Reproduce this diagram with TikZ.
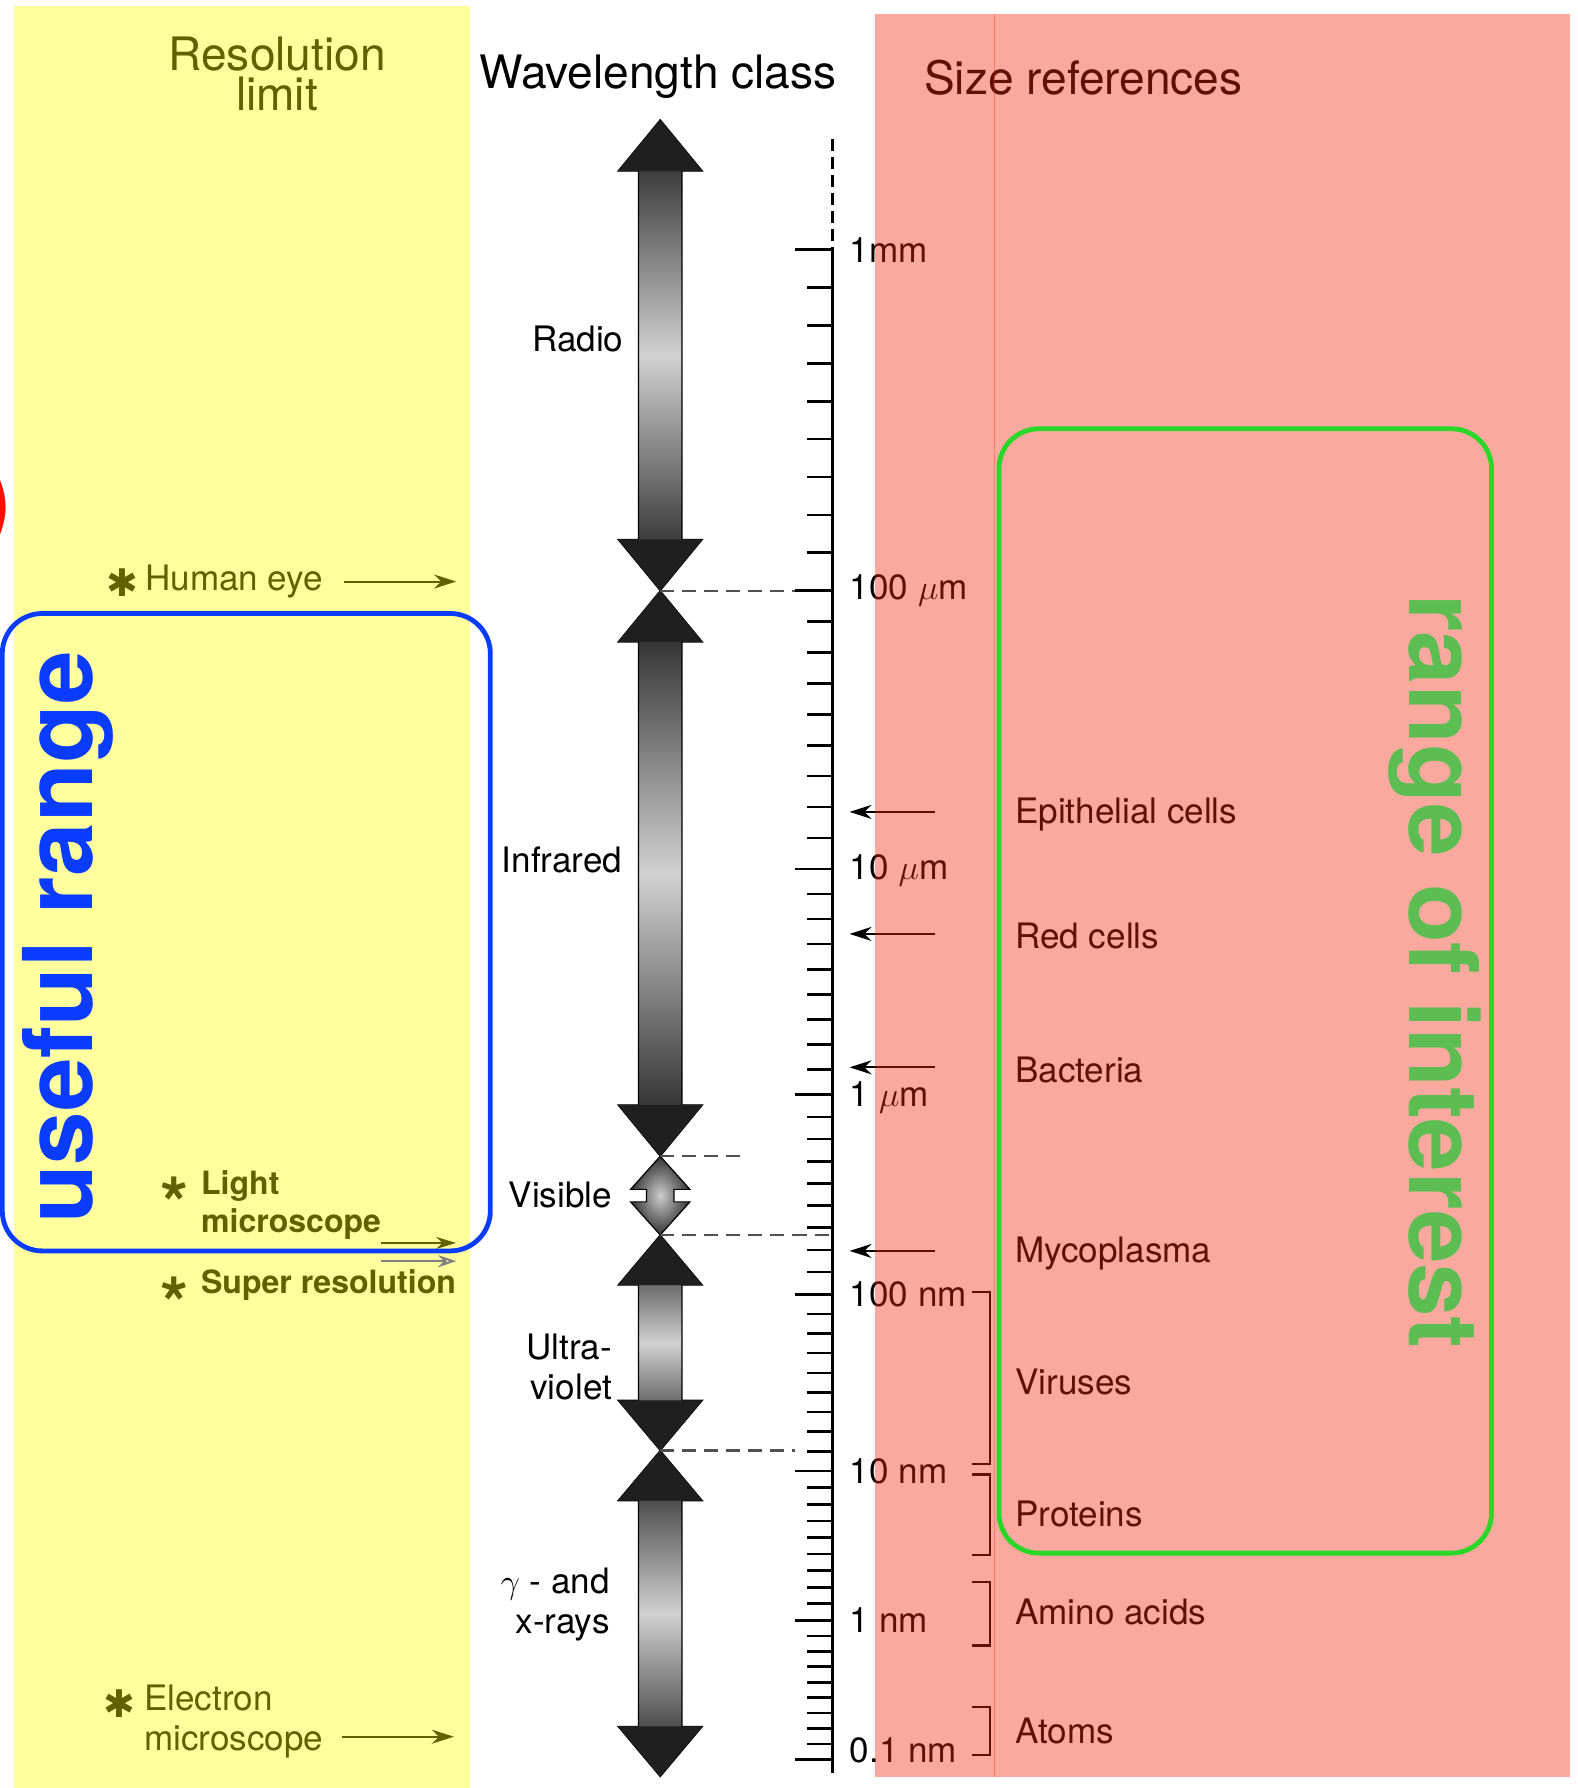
\documentclass[tikz,border=0pt]{standalone}
\usepackage{fontspec}
\setmainfont{TeX Gyre Heros}
\newfontfamily\dingfont{DejaVu Sans}
\usetikzlibrary{arrows.meta}

\definecolor{hlyellow}{RGB}{255,255,0}
\definecolor{hlred}{RGB}{245,40,15}
\definecolor{rangeblue}{RGB}{10,60,255}
\definecolor{rangegreen}{RGB}{40,215,40}
\definecolor{labelgreen}{RGB}{92,190,82}
\definecolor{guidegray}{RGB}{80,80,80}

% one wavelength class: top, bottom, head length, head half width, shaft half width
\newcommand{\bandarrow}[5]{%
  \shadedraw[top color=black!92,bottom color=black!92,middle color=black!18,draw=black,line width=0.6pt]
    (579,#1) -- ({579+#4},{#1+#3}) -- ({579+#5},{#1+#3}) -- ({579+#5},{#2-#3})
    -- ({579+#4},{#2-#3}) -- (579,#2) -- ({579-#4},{#2-#3}) -- ({579-#5},{#2-#3})
    -- ({579-#5},{#1+#3}) -- ({579-#4},{#1+#3}) -- cycle;
  \fill[black!88] (579,#1) -- ({579+#4},{#1+#3}) -- ({579-#4},{#1+#3}) -- cycle;
  \fill[black!88] (579,#2) -- ({579+#4},{#2-#3}) -- ({579-#4},{#2-#3}) -- cycle;
}

\begin{document}
\begin{tikzpicture}[x=0.02cm,y=-0.02cm,
  lbl/.style={inner sep=0pt,font=\fontsize{17.5}{20}\selectfont},
  boldlbl/.style={inner sep=0pt,font=\fontsize{16}{18.8}\selectfont\bfseries},
  title/.style={inner sep=0pt,align=center,font=\fontsize{23}{20}\selectfont},
  bigword/.style={inner sep=0pt,font=\fontsize{48}{50}\selectfont\bfseries},
  star/.style={inner sep=0pt,font=\fontsize{36}{36}\selectfont\bfseries},
  tickmark/.style={line width=1.3pt},
  guide/.style={line width=1.1pt,guidegray,dash pattern=on 7pt off 4pt},
  pointer/.style={line width=1pt,-{Stealth[length=11pt,width=7pt]}},
  bracket/.style={line width=1.1pt},
  rangebox/.style={line width=2.4pt,rounded corners=20pt}]
  \useasboundingbox (0,0) rectangle (1383,1568);
  \fill[white] (0,0) rectangle (1383,1568);

  % headings
  \node[title] (reslim) at (243,65) {Resolution\\limit};
  \node[title] (wlclass) at (577,67) {Wavelength class};
  \node[title] (sizeref) at (950,68) {Size references};

  % wavelength classes
  \bandarrow{105}{518}{45}{37}{19}
  \bandarrow{518}{1014}{45}{37}{19}
  \bandarrow{1083}{1272}{44}{37}{19}
  \bandarrow{1272}{1558}{44}{37}{19}
  % visible: two small heads meeting
  \shadedraw[inner color=black!20,outer color=black!80,draw=black,line width=0.6pt]
    (579,1014) -- (605,1043) -- (591,1043) -- (591,1054) -- (605,1054) -- (579,1083)
    -- (553,1054) -- (567,1054) -- (567,1043) -- (553,1043) -- cycle;
  \node[lbl,anchor=east] (radio) at (547,297) {Radio};
  \node[lbl,anchor=east] (infra) at (546,754) {Infrared};
  \node[lbl,anchor=east] (visib) at (537,1048) {Visible};
  \node[lbl,anchor=east,align=right] (ultra) at (537,1199) {Ultra-\\violet};
  \node[lbl,anchor=east,align=right] (gamma) at (535,1407) {$\gamma$ - and\\x-rays};

  % ruler
  \draw[tickmark,dash pattern=on 6pt off 3pt] (730,122) -- (730,219);
  \draw[tickmark] (730,219) -- (730,1555);
  \foreach \ya/\yb in {219/518,518/762,762/960,960/1135,1135/1290,1290/1421,1421/1543} {
    \draw[tickmark] (697,\ya) -- (730,\ya);
    \foreach \k in {1,...,8}
      \draw[tickmark] (708,{\ya+(\yb-\ya)*\k/9}) -- (730,{\ya+(\yb-\ya)*\k/9});
  }
  \draw[tickmark] (697,1543) -- (730,1543);
  \foreach \y/\txt [count=\i] in {219/1mm,518/100 $\mu$m,763/10 $\mu$m,962/1 $\mu$m,
      1135/100 nm,1290/10 nm,1421/1 nm,1535/0.1 nm}
    \node[lbl,anchor=west] (scale\i) at (745,\y) {\txt};

  % borders between classes
  \coordinate (j1) at (579,518);  \coordinate (g1) at (697,518);
  \coordinate (j2) at (579,1014); \coordinate (g2) at (650,1014);
  \coordinate (j3) at (579,1083); \coordinate (g3) at (730,1083);
  \coordinate (j4) at (579,1272); \coordinate (g4) at (697,1272);
  \foreach \i in {1,...,4}
    \draw[guide] (j\i) -- (g\i);

  % size references
  \foreach \nm/\txt/\y in {epi/Epithelial cells/714,red/Red cells/821,bac/Bacteria/938,myc/Mycoplasma/1099} {
    \node[lbl,anchor=west] (\nm) at (890,\y) {\txt};
    \coordinate (\nm-t) at (745,{\y-2});
    \draw[pointer] (\nm.west |- \nm-t) ++(-70,0) -- (\nm-t);
  }
  \foreach \nm/\txt/\y/\ya/\yb in {vir/Viruses/1212/1133/1284,pro/Proteins/1328/1293/1364,
      ami/Amino acids/1414/1387/1443,ato/Atoms/1518/1497/1539} {
    \node[lbl,anchor=west] (\nm) at (890,\y) {\txt};
    \draw[bracket] (852,\ya) -- (868,\ya) -- (868,\yb) -- (852,\yb);
  }

  % resolution limits
  \node[inner sep=0pt,font=\dingfont\fontsize{19}{19}\selectfont] (hum-s) at (107,511) {✱};
  \node[lbl,anchor=west] (hum) at (127,510) {Human eye};
  \coordinate (hum-e) at (400,510);
  \draw[pointer] (hum.east) ++(18,0) -- (hum-e);

  \node[star] (lmic-s) at (153,1055) {*};
  \node[boldlbl,anchor=west,align=left] (lmic) at (176,1057) {Light\\microscope};
  \coordinate (lmic-e) at (400,1090);
  \draw[pointer,-{Stealth[length=10pt,width=6pt]}] (lmic.east |- lmic-e) -- (lmic-e);

  \node[star] (sres-s) at (153,1143) {*};
  \node[boldlbl,anchor=west] (sres) at (176,1127) {Super resolution};

  \node[inner sep=0pt,font=\dingfont\fontsize{19}{19}\selectfont] (emic-s) at (105,1494) {✱};
  \node[lbl,anchor=west,align=left] (emic) at (126,1510) {Electron\\microscope};
  \coordinate (emic-e) at (398,1523);
  \draw[pointer] (emic.east |- emic-e) ++(16,0) -- (emic-e);

  % highlight bands
  \fill[hlyellow,opacity=0.38] (12,5) rectangle (412,1568);
  \fill[hlred,opacity=0.4] (767,12) rectangle (1377,1558);
  \draw[hlred,opacity=0.35,line width=0.4pt] (872,12) -- (872,1558);

  \coordinate (sres-e) at (400,1106);
  \draw[pointer,gray,-{Stealth[length=9pt,width=6pt,open]}] (lmic.east |- sres-e) -- (sres-e);

  % ranges
  \draw[rangebox,rangeblue] (2,538) rectangle (430,1097);
  \node[bigword,rangeblue,rotate=90] (useful) at (60,822) {useful range};
  \draw[rangebox,rangegreen] (876,376) rectangle (1308,1362);
  \node[bigword,labelgreen,rotate=-90] (interest) at (1258,852) {range of interest};
  \node[inner sep=0pt,font=\fontsize{48}{50}\selectfont,text=red!90!orange,anchor=east] (paren) at (12,445) {)};
\end{tikzpicture}
\end{document}
